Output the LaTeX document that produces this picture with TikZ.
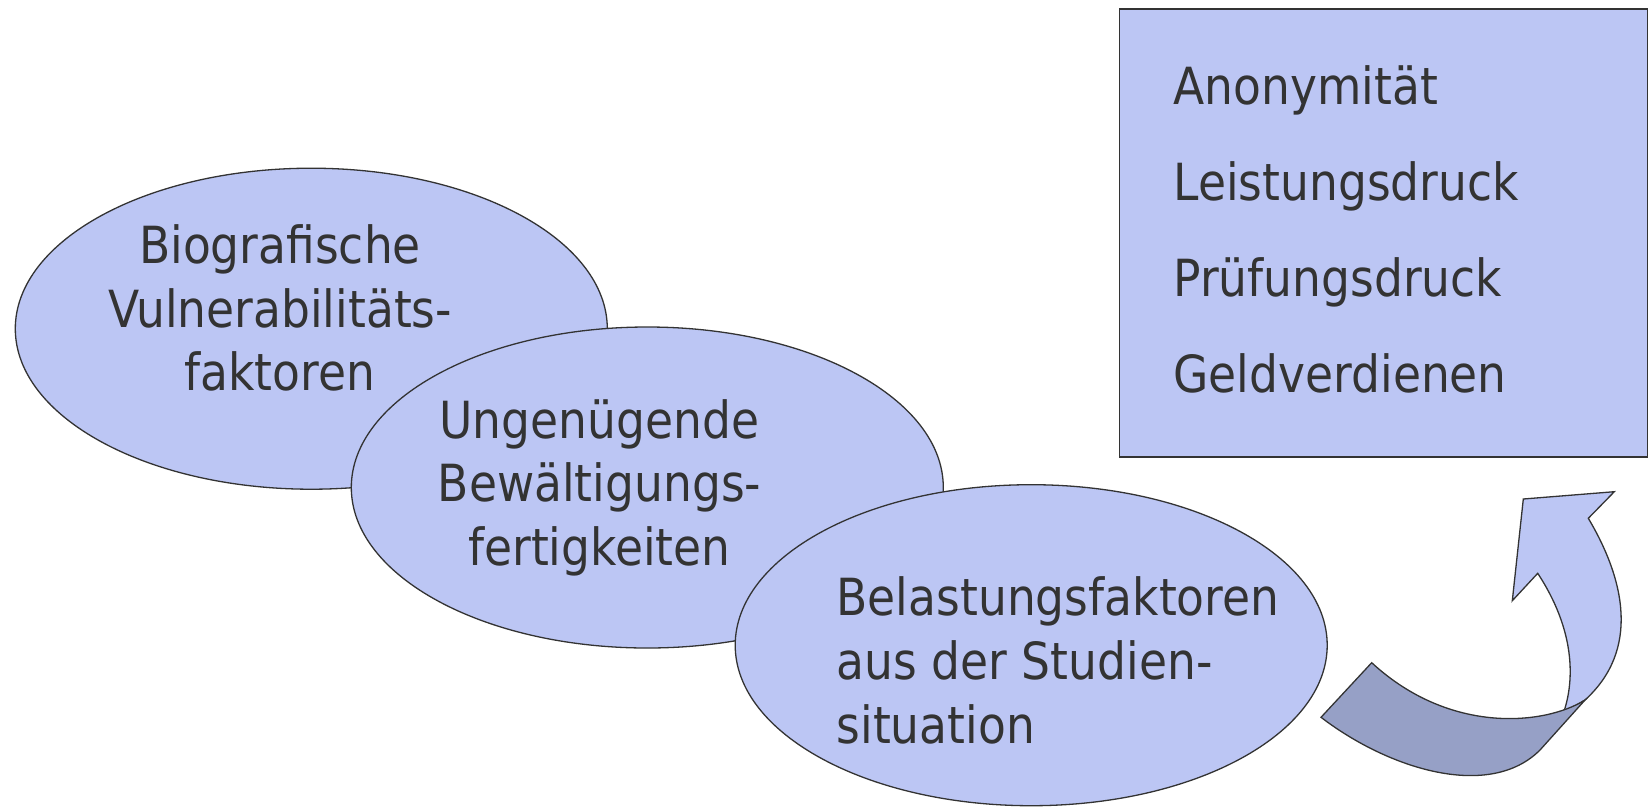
\documentclass[tikz,border=0pt]{standalone}
\usepackage{fontspec}
\setmainfont[FakeStretch=0.89]{DejaVu Sans}
\usetikzlibrary{shapes.geometric}
\definecolor{fillblue}{RGB}{188,198,244}
\definecolor{darkblue}{RGB}{150,160,198}
\definecolor{linegray}{RGB}{51,51,51}
\definecolor{textgray}{RGB}{51,51,51}
\tikzset{
  oval/.style={ellipse, draw=linegray, fill=fillblue, line width=1.3pt,
    minimum width=592pt, minimum height=321pt, inner sep=0pt},
  txt/.style={anchor=base, text=textgray, inner sep=0pt,
    font=\fontsize{51.2}{62}\selectfont},
  ltxt/.style={txt, anchor=base west},
  panel/.style={draw=linegray, fill=fillblue, line width=1.3pt},
  arrowlight/.style={draw=linegray, fill=fillblue, line width=1.3pt, line join=miter},
  arrowdark/.style={draw=linegray, fill=darkblue, line width=1.3pt, line join=miter}
}
\begin{document}
\begin{tikzpicture}[x=1pt,y=-1pt]
\useasboundingbox (0,0) rectangle (1649,807);
% ellipses
\node[oval] (e1) at (311.3,328.7) {};
\node[oval] (e2) at (647.3,487.5) {};
\node[oval] (e3) at (1031.2,645.2) {};
% ellipse texts
\node[txt] (t11) at (280,263.5) {Biografische};
\node[txt] (t12) at (280,327) {Vulnerabilitäts-};
\node[txt] (t13) at (280,390.5) {faktoren};
\node[txt] (t21) at (599.5,438) {Ungenügende};
\node[txt] (t22) at (599.5,501.5) {Bewältigungs-};
\node[txt] (t23) at (599.5,565) {fertigkeiten};
\node[ltxt] (t31) at (836.5,615) {Belastungsfaktoren};
\node[ltxt] (t32) at (836.5,679) {aus der Studien-};
\node[ltxt] (t33) at (836.5,743) {situation};
% box
\node[panel, anchor=north west, minimum width=528pt, minimum height=448pt, inner sep=0pt] (box) at (1119,8.4) {};
\node[ltxt] (b1) at (1173.3,104.5) {Anonymität};
\node[ltxt] (b2) at (1173.3,200.5) {Leistungsdruck};
\node[ltxt] (b3) at (1173.3,296.5) {Prüfungsdruck};
\node[ltxt] (b4) at (1173.3,392) {Geldverdienen};
% curved arrow: upper (light) part
\draw[arrowlight] (1563.3,713.3) .. controls (1575,680) and (1575,630) .. (1537.7,573.3)
  -- (1512.3,600.7) -- (1523.3,499) -- (1614.3,491.7) -- (1588.3,518.3)
  .. controls (1625,580) and (1640,650) .. (1585,700) -- cycle;
% curved arrow: lower (dark) band
\draw[arrowdark] (1321,717.3) .. controls (1390,770) and (1490,800) .. (1540,750)
  -- (1585,700) .. controls (1545,725) and (1450,735) .. (1371.7,662.7) -- cycle;
\end{tikzpicture}
\end{document}
